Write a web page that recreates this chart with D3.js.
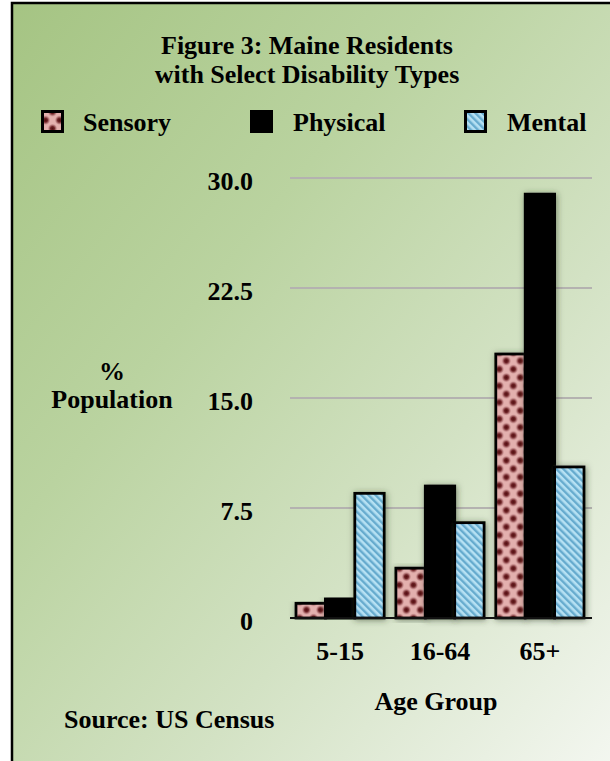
<!DOCTYPE html>
<html>
<head>
<meta charset="utf-8">
<script src="https://cdn.jsdelivr.net/npm/d3@7"></script>
<style>
  html, body { margin: 0; padding: 0; background: #ffffff; }
  svg { display: block; }
  text { font-family: "Liberation Serif", "Times New Roman", serif; font-weight: bold; fill: #000; }
</style>
</head>
<body>
<svg id="chart" width="610" height="761"></svg>
<script>
// Share of Maine residents with each disability type, by age group (%)
const ageGroups = ["5-15", "16-64", "65+"];
const seriesNames = ["Sensory", "Physical", "Mental"];
const sensoryValues = [1.0, 3.4, 18.0];
const physicalValues = [1.3, 9.0, 28.9];
const mentalValues = [8.5, 6.5, 10.3];
const yTickValues = [0, 7.5, 15, 22.5, 30];
const yTickLabels = ["0", "7.5", "15.0", "22.5", "30.0"];

const seriesValues = { Sensory: sensoryValues, Physical: physicalValues, Mental: mentalValues };
const fills = { Sensory: "url(#dots)", Physical: "#000000", Mental: "url(#stripes)" };

const svg = d3.select("#chart");
const W = 610, H = 761;
const defs = svg.append("defs");

// Panel background: diagonal green-to-white wash
const bg = defs.append("linearGradient").attr("id", "bgGrad")
  .attr("x1", 0).attr("y1", 0).attr("x2", 1).attr("y2", 1);
[[0, "#a5c483"], [0.35, "#bad3a0"], [0.65, "#d3e2c4"], [1, "#f4f7f1"]]
  .forEach(([o, c]) => bg.append("stop").attr("offset", o).attr("stop-color", c));

// Sensory fill: pink with soft dark-red dots
const dotGrad = defs.append("radialGradient").attr("id", "dotGrad");
dotGrad.append("stop").attr("offset", 0).attr("stop-color", "#4e0b0e");
dotGrad.append("stop").attr("offset", 0.4).attr("stop-color", "#6e2226");
dotGrad.append("stop").attr("offset", 0.75).attr("stop-color", "#b07274").attr("stop-opacity", 0.7);
dotGrad.append("stop").attr("offset", 1).attr("stop-color", "#e0acaa").attr("stop-opacity", 0);
const dots = defs.append("pattern").attr("id", "dots")
  .attr("patternUnits", "userSpaceOnUse").attr("width", 14).attr("height", 16.6);
dots.append("rect").attr("width", 14).attr("height", 16.6).attr("fill", "#e3b0ae");
[[3.5, 4], [10.5, 12.3], [-3.5, 12.3], [17.5, 4], [3.5, 20.6], [17.5, 20.6], [10.5, -4.3], [-3.5, -4.3]]
  .forEach(([cx, cy]) =>
    dots.append("circle").attr("cx", cx).attr("cy", cy).attr("r", 5).attr("fill", "url(#dotGrad)"));

// Mental fill: light blue with diagonal stripes
const stripes = defs.append("pattern").attr("id", "stripes")
  .attr("patternUnits", "userSpaceOnUse").attr("width", 5).attr("height", 10)
  .attr("patternTransform", "rotate(-45)");
stripes.append("rect").attr("width", 5).attr("height", 10).attr("fill", "#b6e1f3");
stripes.append("rect").attr("x", 0).attr("width", 2.4).attr("height", 10).attr("fill", "#66abce");

// Soft shadow behind bars
const shadow = defs.append("filter").attr("id", "shadow")
  .attr("x", "-40%").attr("y", "-10%").attr("width", "180%").attr("height", "120%");
shadow.append("feDropShadow").attr("dx", 1).attr("dy", 1).attr("stdDeviation", 3)
  .attr("flood-color", "#2e3a26").attr("flood-opacity", 0.55);

// Panel and frame
svg.append("rect").attr("x", 12).attr("y", 3).attr("width", W).attr("height", H)
  .attr("fill", "url(#bgGrad)").attr("stroke", "#000").attr("stroke-width", 2.5);

// Title
const title = svg.append("text").attr("text-anchor", "middle").attr("font-size", 26);
title.append("tspan").attr("x", 307).attr("y", 54).text("Figure 3: Maine Residents");
title.append("tspan").attr("x", 307).attr("y", 83).text("with Select Disability Types");

// Legend
const legendItems = [
  { name: "Sensory", box: 41, label: 83 },
  { name: "Physical", box: 250, label: 293 },
  { name: "Mental", box: 464, label: 507 }
];
const legend = svg.append("g");
legendItems.forEach(d => {
  legend.append("rect").attr("x", d.box + 1.5).attr("y", 111.5).attr("width", 20).attr("height", 20)
    .attr("fill", fills[d.name]).attr("stroke", "#000").attr("stroke-width", 3);
  legend.append("text").attr("x", d.label).attr("y", 131).attr("font-size", 26).text(d.name);
});

// Scales
const y = d3.scaleLinear().domain([0, 30]).range([618, 178]);
const x0 = d3.scaleBand().domain(ageGroups).range([290, 590]).paddingInner(0.117).paddingOuter(0.06);
const x1 = d3.scaleBand().domain(seriesNames).range([0, x0.bandwidth()]).padding(0);

// Gridlines
svg.append("g").selectAll("line").data(yTickValues.filter(v => v > 0)).join("line")
  .attr("x1", 290).attr("x2", 592)
  .attr("y1", d => y(d)).attr("y2", d => y(d))
  .attr("stroke", "#b4b2b0").attr("stroke-width", 2);

// Y axis labels
const yAxis = d3.axisLeft(y).tickValues(yTickValues)
  .tickFormat((d, i) => yTickLabels[i]).tickSize(0).tickPadding(0);
const yG = svg.append("g").attr("transform", "translate(253,0)").call(yAxis);
yG.select(".domain").remove();
yG.selectAll("text").attr("font-size", 26).attr("font-family", null)
  .attr("dy", "0.45em").attr("fill", "#000");

// Y axis title
const yTitle = svg.append("text").attr("text-anchor", "middle").attr("font-size", 26);
yTitle.append("tspan").attr("x", 112).attr("y", 380).text("%");
yTitle.append("tspan").attr("x", 112).attr("y", 408).text("Population");

// Bars
const groups = svg.append("g").selectAll("g").data(ageGroups).join("g")
  .attr("transform", d => `translate(${x0(d)},0)`);
groups.selectAll("rect")
  .data((g, gi) => seriesNames.map(s => ({ s, v: seriesValues[s][gi] })))
  .join("rect")
  .attr("x", d => x1(d.s))
  .attr("y", d => y(d.v))
  .attr("width", x1.bandwidth())
  .attr("height", d => y(0) - y(d.v))
  .attr("fill", d => fills[d.s])
  .attr("stroke", "#000").attr("stroke-width", 2.8)
  .attr("filter", "url(#shadow)");

// Baseline
svg.append("line").attr("x1", 290).attr("x2", 592).attr("y1", y(0)).attr("y2", y(0))
  .attr("stroke", "#111").attr("stroke-width", 2);

// X axis labels
const xAxis = d3.axisBottom(x0).tickSize(0).tickPadding(0);
const xG = svg.append("g").attr("transform", "translate(0,660)").call(xAxis);
xG.select(".domain").remove();
xG.selectAll("text").attr("font-size", 26).attr("font-family", null)
  .attr("dy", 0).attr("y", 0).attr("fill", "#000");

// X axis title and source note
svg.append("text").attr("x", 436).attr("y", 710).attr("text-anchor", "middle")
  .attr("font-size", 26).text("Age Group");
svg.append("text").attr("x", 64).attr("y", 728).attr("font-size", 26).text("Source: US Census");
</script>
</body>
</html>
